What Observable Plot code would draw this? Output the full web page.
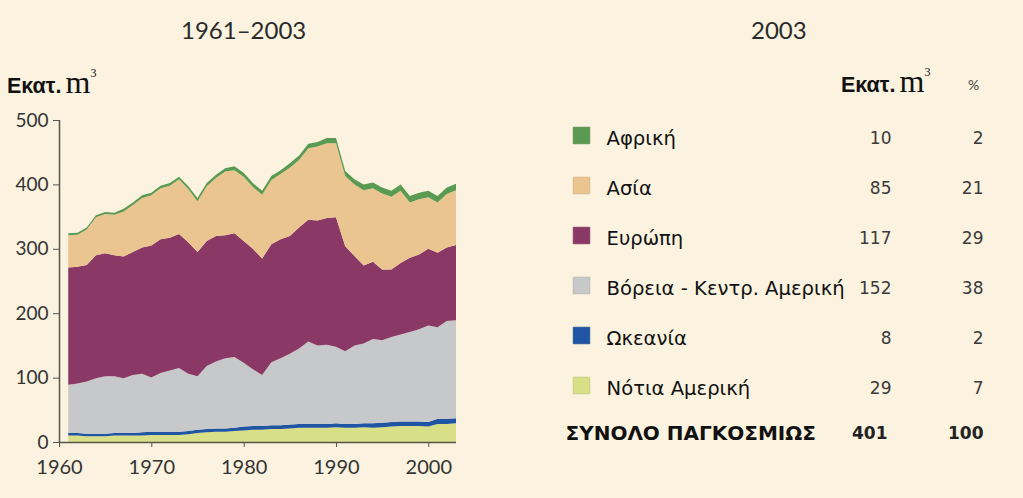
<!DOCTYPE html>
<html><head><meta charset="utf-8">
<script src="https://cdn.jsdelivr.net/npm/d3@7"></script>
<script src="https://cdn.jsdelivr.net/npm/@observablehq/plot@0.6"></script>
<style>
  body { margin: 0; background: #fbf3df; }
  #wrap { position: relative; width: 1023px; height: 498px; background: #fbf3df; overflow: hidden; font-family: Lato, "Open Sans", "Liberation Sans", sans-serif; color: #333; }
  .abs { position: absolute; white-space: nowrap; line-height: 1; }
  .ttl { font-size: 24px; font-weight: 400; color: #2a2a2a; }
  .unit b { font-family: "Liberation Sans", Arial, sans-serif; font-weight: bold; font-size: 21.5px; color: #111; }
  .unit i { font-family: "Liberation Serif", "Times New Roman", serif; font-style: normal; font-size: 32px; color: #111; }
  .unit sup { font-family: "Liberation Serif", serif; font-size: 12px; vertical-align: 16px; color: #111; }
</style></head>
<body><div id="wrap">
  <div class="abs ttl" id="t1"></div>
  <div class="abs ttl" id="t2"></div>
  <div class="abs unit" style="left:7px; top:66px;"><b>Εκατ.</b> <i>m</i><sup>3</sup></div>
  <div class="abs unit" style="left:841px; top:65px;"><b>Εκατ.</b> <i>m</i><sup>3</sup></div>
  <div class="abs" style="left:968px; top:78px; font-size:14px; color:#444;">%</div>
  <div class="abs" id="chart" style="left:0; top:0;"></div>
  <div class="abs" id="legend" style="left:540px; top:0;"></div>
</div>
<script>
// ---- data ----
const titleLeft = "1961–2003";
const titleRight = "2003";
const years = d3.range(1961, 2004);
const regions = ["Αφρική", "Ασία", "Ευρώπη", "Βόρεια - Κεντρ. Αμερική", "Ωκεανία", "Νότια Αμερική"];
const colors = ["#5a9a52", "#ebc58f", "#8a3866", "#c7c8ca", "#1f55a3", "#d9df86"];
const stackOrder = ["Νότια Αμερική", "Ωκεανία", "Βόρεια - Κεντρ. Αμερική", "Ευρώπη", "Ασία", "Αφρική"];

const southAmerica = [10,10,9,9,9,10,10,10,10,11, 11,11,11,12,14,15,16,16,17,18, 19,19,20,20,21,22,22,22,22,23, 22,22,23,22,23,24,25,25,25,24, 28,28,29];
const oceania      = [4,4,4,4,4,4,4,4,5,5, 5,5,5,5,5,5,5,5,5,6, 6,6,6,6,6,6,6,6,6,6, 6,6,6,7,7,7,7,7,7,7, 8,8,8];
const northAmerica = [75,77,81,86,89,88,85,90,91,84, 91,95,99,89,83,98,104,109,110,99, 88,79,98,104,110,117,128,122,123,119, 113,122,124,131,128,132,135,139,143,150, 142,152,152];
const europe       = [182,181,181,191,191,188,189,191,196,205, 208,206,208,204,193,194,195,191,192,189, 187,181,183,185,183,188,189,194,197,201, 163,139,121,120,110,105,111,115,116,119, 116,114,117];
const asia         = [50,50,55,59,61,63,70,73,77,78, 79,81,85,83,79,85,90,99,98,100, 96,99,100,101,106,105,111,115,116,115, 109,111,117,114,118,113,112,86,86,80, 78,83,85];
const africa       = [3,3,3,3,3,3,4,4,4,4, 4,4,4,4,5,5,5,5,6,6, 6,6,6,6,7,7,7,7,8,8, 8,8,9,9,9,9,10,10,10,10, 10,10,10];

const values2003 = [10, 85, 117, 152, 8, 29];
const percent2003 = [2, 21, 29, 38, 2, 7];
const totalLabel = "ΣΥΝΟΛΟ ΠΑΓΚΟΣΜΙΩΣ";
const totalValue = 401;
const totalPercent = 100;

const yTicks = [0, 100, 200, 300, 400, 500];
const xTicks = [1960, 1970, 1980, 1990, 2000];

// ---- tidy table ----
const seriesByRegion = {
  "Αφρική": africa, "Ασία": asia, "Ευρώπη": europe,
  "Βόρεια - Κεντρ. Αμερική": northAmerica, "Ωκεανία": oceania, "Νότια Αμερική": southAmerica
};
const tidy = [];
for (const r of stackOrder) seriesByRegion[r].forEach((v, i) => tidy.push({year: years[i], region: r, value: v}));

document.getElementById("t1").textContent = titleLeft;
document.getElementById("t2").textContent = titleRight;
Object.assign(document.getElementById("t1").style, {left: "181px", top: "18px"});
Object.assign(document.getElementById("t2").style, {left: "751px", top: "18px"});

const axisColor = "#56554a";
const chart = Plot.plot({
  width: 520, height: 498,
  marginLeft: 59, marginRight: 64, marginTop: 120, marginBottom: 56,
  style: {background: "transparent", fontFamily: "Lato, 'Open Sans', sans-serif", color: "#333"},
  x: {domain: [1960, 2003]},
  y: {domain: [0, 500]},
  color: {domain: regions, range: colors},
  marks: [
    Plot.areaY(tidy, {x: "year", y: "value", fill: "region", order: stackOrder}),
    Plot.ruleX([1960], {stroke: axisColor, strokeWidth: 1.5}),
    Plot.ruleY([0], {stroke: axisColor, strokeWidth: 1.5}),
    Plot.axisY({ticks: yTicks, tickSize: 6, tickPadding: 5, fontSize: 19, label: null, stroke: axisColor, fill: "#333"}),
    Plot.axisX({ticks: xTicks, tickFormat: d => String(d), tickSize: 5, tickPadding: 12, fontSize: 20, label: null, stroke: axisColor, fill: "#333"})
  ]
});
document.getElementById("chart").append(chart);

// ---- legend table ----
const rows = regions.map((r, i) => ({region: r, value: values2003[i], pct: percent2003[i], color: colors[i], edge: d3.color(colors[i]).darker(0.4).formatHex()}));
const rowKeys = [...regions, totalLabel];
const col = {swatch: 41, label: 66, value: 351, pct: 443, total: 25};
const wide = "'DejaVu Sans', Verdana, sans-serif";
const legend = Plot.plot({
  width: 483, height: 498, margin: 0,
  style: {background: "transparent", fontFamily: "Lato, 'Open Sans', sans-serif", color: "#333"},
  x: {type: "identity", axis: null},
  y: {type: "point", domain: rowKeys, range: [136, 440], padding: 0, axis: null},
  marks: [
    Plot.dot(rows, {x: () => col.swatch, y: "region", symbol: "square", r: 9.4, fill: "color", dy: -3, stroke: "edge", strokeWidth: 0.6}),
    Plot.text(rows, {x: () => col.label, y: "region", text: "region", textAnchor: "start", fontSize: 19.6, fill: "#111", fontFamily: wide}),
    Plot.text(rows, {x: () => col.value, y: "region", text: d => String(d.value), textAnchor: "end", fontSize: 17, fill: "#3a3a3a", fontFamily: wide}),
    Plot.text(rows, {x: () => col.pct, y: "region", text: d => String(d.pct), textAnchor: "end", fontSize: 17, fill: "#3a3a3a", fontFamily: wide}),
    Plot.text([totalLabel], {x: () => col.total, y: d => d, text: d => d, textAnchor: "start", fontSize: 20, fontWeight: "bold", fill: "#111", dy: -5, fontFamily: wide}),
    Plot.text([totalValue], {x: () => col.value - 4, y: () => totalLabel, text: d => String(d), textAnchor: "end", fontSize: 17, fontWeight: "bold", fill: "#222", dy: -5, fontFamily: wide}),
    Plot.text([totalPercent], {x: () => col.pct, y: () => totalLabel, text: d => String(d), textAnchor: "end", fontSize: 17, fontWeight: "bold", fill: "#222", dy: -5, fontFamily: wide})
  ]
});
document.getElementById("legend").append(legend);
</script>
</body></html>
